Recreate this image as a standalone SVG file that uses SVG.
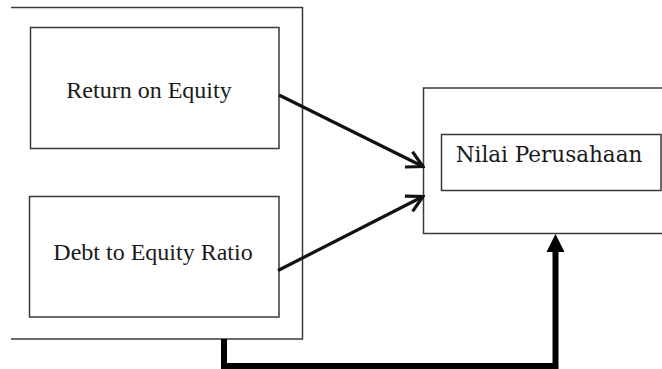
<svg xmlns="http://www.w3.org/2000/svg" width="662" height="369" viewBox="0 0 662 369">
  <defs>
    <style>
      .box { fill: #ffffff; stroke: #3a3a3a; stroke-width: 1.5; }
      .frame { fill: none; stroke: #3a3a3a; stroke-width: 1.5; }
      .label { font-family: "Liberation Serif", "Times New Roman", serif; font-size: 24px; fill: #1a1a1a; }
      .label2 { font-family: "DejaVu Serif", "Liberation Serif", serif; font-size: 21.5px; fill: #1a1a1a; }
      .thin { fill: none; stroke: #111111; stroke-width: 3.2; }
      .thick { fill: none; stroke: #000000; stroke-width: 6; stroke-linejoin: miter; }
    </style>
    <marker id="openArrow" viewBox="0 0 20 20" refX="18" refY="10" markerWidth="20" markerHeight="20" markerUnits="userSpaceOnUse" orient="auto">
      <path d="M2,1.5 L18,10 L2,18.5" fill="none" stroke="#111111" stroke-width="3.2" stroke-linejoin="miter"/>
    </marker>
  </defs>

  <!-- outer frame around the independent variables (left side runs past the edge) -->
  <g id="independent-group">
    <path class="frame" d="M11,7.5 H302.5 V339 H11"/>
  </g>

  <g id="node-roe">
    <rect class="box" x="30.5" y="27.5" width="248.5" height="121"/>
    <text class="label" x="149" y="98" text-anchor="middle">Return on Equity</text>
  </g>

  <g id="node-der">
    <rect class="box" x="29.5" y="196.5" width="249.5" height="120.5"/>
    <text class="label" x="153" y="260" text-anchor="middle">Debt to Equity Ratio</text>
  </g>

  <!-- dependent variable frame (right side runs past the edge) -->
  <g id="dependent-group">
    <path class="frame" d="M664,88 H423.5 V233.5 H664"/>
  </g>

  <g id="node-nilai">
    <rect class="box" x="441.5" y="134.5" width="219.5" height="56"/>
    <text class="label2" x="549" y="162" text-anchor="middle">Nilai Perusahaan</text>
  </g>

  <g id="connectors">
    <line class="thin" x1="279" y1="95" x2="423" y2="166.5" marker-end="url(#openArrow)"/>
    <line class="thin" x1="278" y1="270.5" x2="423" y2="196.5" marker-end="url(#openArrow)"/>
    <path class="thick" d="M224,339 V366 H555.5 V250"/>
    <polygon points="555.5,234 564.5,252 546.5,252" fill="#000000"/>
  </g>
</svg>
